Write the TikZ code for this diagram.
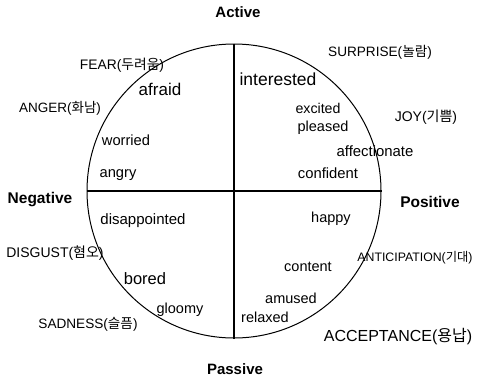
\documentclass[tikz,border=0pt]{standalone}
\usepackage{fontspec}
\setmainfont{Liberation Sans}
\newfontfamily\kr{Noto Sans CJK KR}
\begin{document}
\begin{tikzpicture}[x=1pt, y=-1pt, thick,
    pole/.style={font=\bfseries\fontsize{#1}{#1}\selectfont},
    emo/.style={font=\fontsize{#1}{#1}\selectfont},
    word/.style={font=\fontsize{#1}{#1}\selectfont},
    wheelring/.style={circle, draw=black, line width=1pt, minimum size=294pt, inner sep=0pt}]
        \useasboundingbox (0,0) rectangle (477,383);
        \node[wheelring] (wheel) at (234,191) {};
        \draw[line width=1.2pt] (wheel.north) -- (wheel.south);
        \draw[line width=1.2pt] (wheel.west) -- (wheel.east);

        % poles
        \node[pole=15] (active) at (238,12) {Active};
        \node[pole=15.5] (negative) at (40,200) {Negative};
        \node[pole=15.5] (positive) at (430,202) {Positive};
        \node[pole=15] (passive) at (235,369) {Passive};

        % emotions
        \node[emo=13.8] (fear) at (122,65) {FEAR({\kr 두려움})};
        \node[emo=13.5] (anger) at (60,108) {ANGER({\kr 화남})};
        \node[emo=13.6] (surprise) at (380,52) {SURPRISE({\kr 놀람})};
        \node[emo=14] (joy) at (426,117) {JOY({\kr 기쁨})};
        \node[emo=14] (disgust) at (55,253) {DISGUST({\kr 혐오})};
        \node[emo=13.6] (sadness) at (88,324) {SADNESS({\kr 슬픔})};
        \node[emo=12.3] (anticipation) at (415,258) {ANTICIPATION({\kr 기대})};
        \node[emo=16] (acceptance) at (398,337) {ACCEPTANCE({\kr 용납})};

        % words
        \node[word=17] (afraid) at (160,89) {afraid};
        \node[word=14.7] (worried) at (126,140) {worried};
        \node[word=14.7] (angry) at (118,175) {angry};
        \node[word=17.5] (interested) at (278,79) {interested};
        \node[word=14.2] (excited) at (318,108) {excited};
        \node[word=14.5] (pleased) at (323,128) {pleased};
        \node[word=14.9] (affectionate) at (375,151) {affectionate};
        \node[word=14.8] (confident) at (328,173) {confident};
        \node[word=15] (disappointed) at (143,221) {disappointed};
        \node[word=16.5] (bored) at (145,279) {bored};
        \node[word=14.5] (gloomy) at (180,310) {gloomy};
        \node[word=14.5] (happy) at (331,219) {happy};
        \node[word=14.5] (content) at (308,267) {content};
        \node[word=14.5] (amused) at (291,298) {amused};
        \node[word=14.5] (relaxed) at (265,317) {relaxed};
\end{tikzpicture}
\end{document}
